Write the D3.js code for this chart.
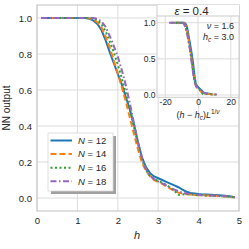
<!DOCTYPE html>
<html><head><meta charset="utf-8">
<script src="https://cdn.jsdelivr.net/npm/d3@7"></script>
<style>body{margin:0;background:#fff}text{font-family:"Liberation Sans",Arial,sans-serif;fill:#262626}</style>
</head><body><svg id="c" width="249" height="249"></svg>
<script>
const hVals=[0.1,0.2,0.3,0.4,0.5,0.6,0.7,0.8,0.9,1.0,1.1,1.2,1.3,1.4,1.5,1.6,1.7,1.8,1.9,2.0,2.1,2.2,2.3,2.4,2.5,2.6,2.7,2.8,2.9,3.0,3.1,3.2,3.3,3.4,3.5,3.6,3.7,3.8,3.9,4.0,4.1,4.2,4.3,4.4,4.5,4.6,4.7,4.8,4.9];
const sizes=[12,14,16,18];
const out12=[1,1,1,1,1,1,1,1,1,1,1,1,0.995,0.985,0.965,0.93,0.875,0.81,0.75,0.69,0.63,0.56,0.49,0.41,0.31,0.225,0.17,0.138,0.12,0.11,0.10,0.09,0.08,0.07,0.06,0.047,0.035,0.028,0.025,0.022,0.02,0.019,0.018,0.017,0.016,0.014,0.011,0.008,0.005];
const out14=[1,1,1,1,1,1,1,1,1,1,1,1,0.998,0.99,0.975,0.945,0.895,0.835,0.765,0.69,0.615,0.535,0.445,0.355,0.27,0.195,0.15,0.12,0.10,0.09,0.078,0.065,0.052,0.04,0.03,0.025,0.021,0.019,0.017,0.016,0.015,0.014,0.013,0.012,0.011,0.01,0.008,0.006,0.004];
const out16=[1,1,1,1,1,1,1,1,1,1,1,1,1,0.997,0.988,0.965,0.925,0.87,0.81,0.74,0.665,0.58,0.49,0.395,0.30,0.215,0.155,0.122,0.105,0.095,0.085,0.073,0.058,0.04,0.018,0.02,0.022,0.02,0.018,0.016,0.015,0.014,0.013,0.012,0.011,0.01,0.008,0.006,0.004];
const out18=[1,1,1,1,1,1,1,1,1,1,1,1,1,1,0.995,0.98,0.95,0.90,0.845,0.785,0.71,0.625,0.525,0.415,0.31,0.22,0.16,0.125,0.105,0.093,0.082,0.07,0.058,0.047,0.038,0.03,0.025,0.022,0.02,0.018,0.016,0.015,0.014,0.013,0.012,0.011,0.009,0.007,0.005];
const outputs=[out12,out14,out16,out18];
const colors=["#1f77b4","#ff7f0e","#2ca02c","#9467bd"];
const dashes=[null,"6,3","2,2.5","6,2.5,1.5,2.5"];
const xTicks=[0,1,2,3,4,5];
const yTicks=[0,0.2,0.4,0.6,0.8,1.0];
const inXTicks=[-20,0,20];
const inYTicks=[0,0.5,1.0];
const nu=1.6, hc=3.0, eps=0.4;

const svg=d3.select("#c");
const M={l:37,r:239,t:5,b:211};
const x=d3.scaleLinear().domain([0,5]).range([M.l,M.r]);
const y=d3.scaleLinear().domain([-0.072,1.072]).range([M.b,M.t]);
const grid="#dcdcdc", edge="#cccccc";
const g=svg.append("g");
g.append("g").selectAll("line").data(xTicks).join("line")
 .attr("x1",d=>x(d)).attr("x2",d=>x(d)).attr("y1",M.t).attr("y2",M.b).attr("stroke",grid).attr("stroke-width",1);
g.append("g").selectAll("line").data(yTicks).join("line")
 .attr("y1",d=>y(d)).attr("y2",d=>y(d)).attr("x1",M.l).attr("x2",M.r).attr("stroke",grid).attr("stroke-width",1);
const ax=g.append("g").attr("transform",`translate(0,${M.b})`).call(d3.axisBottom(x).tickValues(xTicks).tickSize(0).tickPadding(6).tickFormat(d3.format("d")));
ax.select(".domain").remove();
ax.selectAll("text").attr("font-size",9.5).attr("fill","#262626").attr("font-family","Liberation Sans, Arial");
const ay=g.append("g").attr("transform",`translate(${M.l},0)`).call(d3.axisLeft(y).tickValues(yTicks).tickSize(0).tickPadding(5).tickFormat(d3.format(".1f")));
ay.select(".domain").remove();
ay.selectAll("text").attr("font-size",9.5).attr("fill","#262626").attr("font-family","Liberation Sans, Arial");

const line=d3.line().x((d,i)=>x(hVals[i])).y(d=>y(d));
outputs.forEach((s,k)=>{
  g.append("path").attr("d",line(s)).attr("fill","none").attr("stroke",colors[k]).attr("stroke-width",2)
   .attr("stroke-dasharray",dashes[k]);
});
g.append("rect").attr("x",M.l).attr("y",M.t).attr("width",M.r-M.l).attr("height",M.b-M.t).attr("fill","none").attr("stroke",edge).attr("stroke-width",1.25);

svg.append("text").attr("x",137).attr("y",239).attr("font-size",11).attr("font-style","italic").attr("text-anchor","middle").text("h");
svg.append("text").attr("transform",`translate(10,${(M.t+M.b)/2}) rotate(-90)`).attr("font-size",10).attr("text-anchor","middle").text("NN output");

// legend
const L={x:48,y:133,w:65,h:58};
svg.append("rect").attr("x",L.x+3).attr("y",L.y+3).attr("width",L.w).attr("height",L.h).attr("fill","#a0a0a0");
svg.append("rect").attr("x",L.x).attr("y",L.y).attr("width",L.w).attr("height",L.h).attr("fill","#fff").attr("stroke","#d8d8d8").attr("stroke-width",0.8);
sizes.forEach((n,k)=>{
  const yy=140.5+k*13.6;
  svg.append("line").attr("x1",50.5).attr("x2",72).attr("y1",yy).attr("y2",yy).attr("stroke",colors[k]).attr("stroke-width",2).attr("stroke-dasharray",dashes[k]);
  const t=svg.append("text").attr("x",78).attr("y",yy+3.3).attr("font-size",9.5);
  t.append("tspan").attr("font-style","italic").text("N");
  t.append("tspan").text(" = "+n);
});

// inset
const I={l:157,r:239,t:16,b:97.3};
const xi=d3.scaleLinear().domain([-25,25]).range([I.l,I.r]);
const yi=d3.scaleLinear().domain([-0.032,1.093]).range([I.b,I.t]);
svg.append("rect").attr("x",I.l).attr("y",M.t).attr("width",I.r-I.l).attr("height",I.t-M.t).attr("fill","#fff");
svg.append("rect").attr("x",I.l).attr("y",I.t).attr("width",I.r-I.l).attr("height",I.b-I.t).attr("fill","#fff");
const gi=svg.append("g");
gi.selectAll(".gx").data(inXTicks).join("line").attr("x1",d=>xi(d)).attr("x2",d=>xi(d)).attr("y1",I.t).attr("y2",I.b).attr("stroke",grid);
gi.selectAll(".gy").data(inYTicks).join("line").attr("y1",d=>yi(d)).attr("y2",d=>yi(d)).attr("x1",I.l).attr("x2",I.r).attr("stroke",grid);
const iax=gi.append("g").attr("transform",`translate(0,${I.b})`).call(d3.axisBottom(xi).tickValues(inXTicks).tickSize(0).tickPadding(2).tickFormat(d=>d<0?"-"+Math.abs(d):d));
iax.select(".domain").remove();
iax.selectAll("text").attr("font-size",8.5).attr("fill","#262626").attr("font-family","Liberation Sans, Arial");
const iay=gi.append("g").attr("transform",`translate(${I.l},0)`).call(d3.axisLeft(yi).tickValues(inYTicks).tickSize(0).tickPadding(1.5).tickFormat(d3.format(".1f")));
iay.select(".domain").remove();
iay.selectAll("text").attr("font-size",8.5).attr("fill","#262626").attr("font-family","Liberation Sans, Arial");
outputs.forEach((s,k)=>{
  const sc=Math.pow(sizes[k],1/nu);
  const li=d3.line().x((d,i)=>xi((hVals[i]-hc)*sc)).y(d=>yi(d));
  gi.append("path").attr("d",li(s)).attr("fill","none").attr("stroke",colors[k]).attr("stroke-width",2).attr("stroke-dasharray",dashes[k]);
});
gi.append("rect").attr("x",I.l).attr("y",I.t).attr("width",I.r-I.l).attr("height",I.b-I.t).attr("fill","none").attr("stroke",edge).attr("stroke-width",1);
gi.append("line").attr("x1",I.l).attr("x2",I.l).attr("y1",M.t).attr("y2",I.t).attr("stroke",edge);
const tt=svg.append("text").attr("x",191.5).attr("y",15).attr("font-size",11.5).attr("text-anchor","middle");
tt.append("tspan").attr("font-style","italic").text("ε");tt.append("tspan").text(" = "+eps);
const t1=svg.append("text").attr("x",234).attr("y",29).attr("font-size",9).attr("text-anchor","end");
t1.append("tspan").attr("font-style","italic").text("ν");t1.append("tspan").text(" = "+nu);
const t2=svg.append("text").attr("x",234).attr("y",39.5).attr("font-size",9).attr("text-anchor","end");
t2.append("tspan").attr("font-style","italic").text("h");t2.append("tspan").attr("font-style","italic").attr("font-size",6.5).attr("dy",2).text("c");
t2.append("tspan").attr("dy",-2).text(" = "+hc.toFixed(1));
const t3=svg.append("text").attr("x",198).attr("y",118).attr("font-size",9).attr("text-anchor","middle");
t3.append("tspan").text("(");t3.append("tspan").attr("font-style","italic").text("h");t3.append("tspan").text(" − ");
t3.append("tspan").attr("font-style","italic").text("h");t3.append("tspan").attr("font-style","italic").attr("font-size",6.5).attr("dy",2).text("c");
t3.append("tspan").attr("dy",-2).text(")");t3.append("tspan").attr("font-style","italic").text("L");
t3.append("tspan").attr("font-size",6.5).attr("dy",-4).text("1/");t3.append("tspan").attr("font-size",6.5).attr("font-style","italic").text("ν");
</script></body></html>
